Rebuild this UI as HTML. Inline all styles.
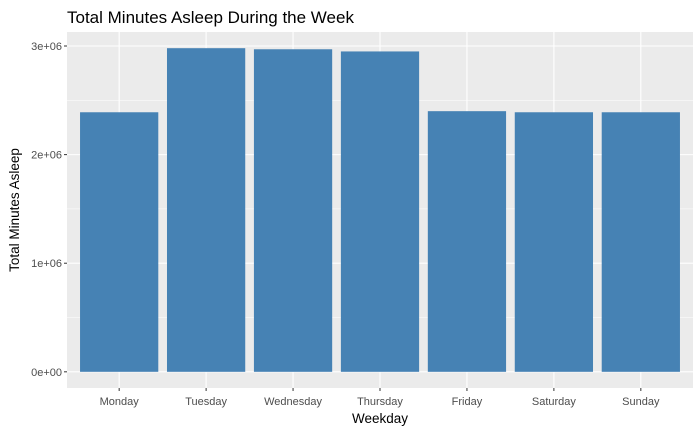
<!DOCTYPE html>
<html><head><meta charset="utf-8"><style>
body{margin:0;background:#fff;}
svg{display:block;font-family:"Liberation Sans",Arial,sans-serif;}
</style></head><body>
<svg id="chart" width="700" height="432">
<text x="67" y="23" font-size="17" fill="#000">Total Minutes Asleep During the Week</text>
<rect x="67" y="32" width="626" height="356" fill="#EBEBEB"/>
<g id="grid"></g><g id="bars"></g><g id="axes"></g>
<text x="380" y="423" font-size="13.5" text-anchor="middle" fill="#000">Weekday</text>
<text transform="translate(19,210) rotate(-90)" font-size="13.5" text-anchor="middle" fill="#000">Total Minutes Asleep</text>
</svg>
<script>
const categories=["Monday","Tuesday","Wednesday","Thursday","Friday","Saturday","Sunday"];
const values=[2390000,2980000,2970000,2950000,2400000,2390000,2390000];
const yTicks=[0,1000000,2000000,3000000];
const yTickLabels=["0e+00","1e+06","2e+06","3e+06"];
const NS="http://www.w3.org/2000/svg";
const pL=67,pR=693,pT=32,pB=388;
const maxV=Math.max(...values)*1.05;
const y0=pB-(pB-pT)*0.05/1.1;
const y=v=>y0-(y0-pT)*v/maxV;
const band=(pR-pL)/(categories.length+0.2);
const x=i=>pL+band*(i+0.6);
function mk(t,a,p){const e=document.createElementNS(NS,t);for(const k in a)e.setAttribute(k,a[k]);p.appendChild(e);return e;}
const grid=document.getElementById('grid'),bars=document.getElementById('bars'),axes=document.getElementById('axes');
for(let i=0;i<yTicks.length-1;i++){const v=(yTicks[i]+yTicks[i+1])/2;
const l=mk('line',{x1:pL,x2:pR,y1:y(v),y2:y(v),stroke:'#fff','stroke-width':0.5},grid);

}
yTicks.forEach((v,i)=>{
const l=mk('line',{x1:pL,x2:pR,y1:y(v),y2:y(v),stroke:'#fff','stroke-width':1.1},grid);


const tk=mk('line',{x1:pL-3,x2:pL,y1:y(v),y2:y(v),stroke:'#333','stroke-width':1},axes);


const t=mk('text',{x:pL-5,y:y(v)+4,'font-size':11,fill:'#4D4D4D','text-anchor':'end'},axes);
t.textContent=yTickLabels[i];


});
categories.forEach((c,i)=>{
const cx=x(i);
const g=mk('line',{x1:cx,x2:cx,y1:pT,y2:pB,stroke:'#fff','stroke-width':1.1},grid);


const r=mk('rect',{x:cx-band*0.45,width:band*0.9,y:y(values[i]),height:y(0)-y(values[i]),fill:'#4682B4'},bars);


const tk=mk('line',{x1:cx,x2:cx,y1:pB,y2:pB+3,stroke:'#333','stroke-width':1},axes);


const t=mk('text',{x:cx,y:pB+17,'font-size':11,fill:'#4D4D4D','text-anchor':'middle'},axes);
t.textContent=c;


});
</script>
</body></html>
